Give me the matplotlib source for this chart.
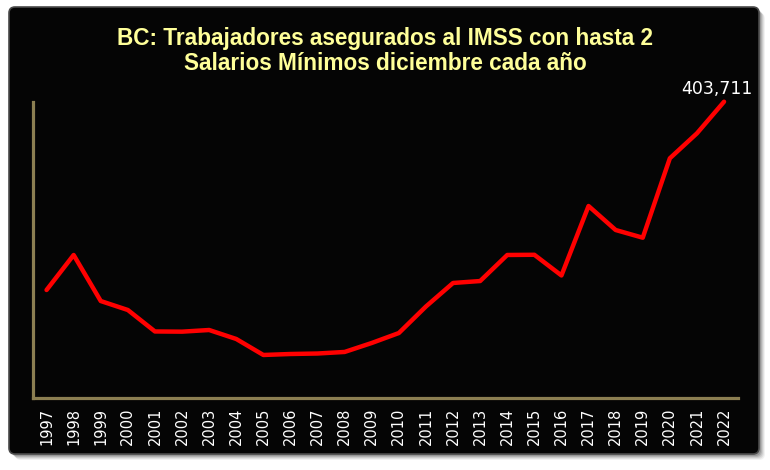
import numpy as np
import matplotlib
matplotlib.use("Agg")
import matplotlib.pyplot as plt
from matplotlib import font_manager
from matplotlib.patches import FancyBboxPatch

# datos (estimados a partir de la imagen)
years = [str(y) for y in range(1997, 2023)]
workers = [210700, 246600, 199400, 190200, 168200, 168000, 169700, 160500,
           144100, 145100, 145600, 147200, 156400, 166600, 193800, 217900,
           219900, 246600, 246800, 225600, 296800, 272200, 264300, 345700,
           371300, 403711]
title_1 = "BC: Trabajadores asegurados al IMSS con hasta 2"
title_2 = "Salarios Mínimos diciembre cada año"


def pick_font(names):
    for n in names:
        try:
            font_manager.findfont(font_manager.FontProperties(family=n), fallback_to_default=False)
            return n
        except Exception:
            pass
    return "DejaVu Sans"


narrow = pick_font(["Liberation Sans Narrow", "Liberation Sans", "DejaVu Sans"])
title_size = 17 if narrow == "Liberation Sans Narrow" else 16.3

W, H = 770, 470
fig = plt.figure(figsize=(W / 100, H / 100), dpi=100)
fig.patch.set_facecolor("white")

# fondo: panel negro con sombra
bg = fig.add_axes([0, 0, 1, 1])
bg.set_xlim(0, W)
bg.set_ylim(H, 0)
bg.axis("off")
for i, a in enumerate([0.05, 0.07, 0.09, 0.12, 0.15]):
    off = 6 - i
    bg.add_patch(FancyBboxPatch((9 + off, 7 + off), 750, 447,
                                boxstyle="round,pad=0,rounding_size=6",
                                fc="black", ec="none", alpha=a))
panel = FancyBboxPatch((9, 7), 750, 447, boxstyle="round,pad=0,rounding_size=6",
                       fc="#050505", ec="#4a4a4a", lw=1.2)
bg.add_patch(panel)
grad = np.linspace(0.55, 0.02, 60).reshape(-1, 1)
im = bg.imshow(np.dstack([grad, grad, grad]), extent=(9, 759, 26, 7), aspect="auto")
im.set_clip_path(panel)

# titulo
fig.text(0.5, 1 - 45 / H, title_1, ha="center", va="baseline", color="#FFFF99",
         fontsize=title_size, fontweight="bold", family=narrow)
fig.text(0.5, 1 - 70 / H, title_2, ha="center", va="baseline", color="#FFFF99",
         fontsize=title_size, fontweight="bold", family=narrow)

# grafica
ax = fig.add_axes([33 / W, 1 - 398 / H, (737.6 - 33) / W, (398 - 101.7) / H])
ax.set_facecolor("none")
x = np.arange(len(years))
ax.plot(x, workers, color="#FF0000", lw=3.2, solid_joinstyle="round",
        solid_capstyle="round", clip_on=False)
ax.set_xlim(-0.5, len(years) - 0.5)
ax.set_ylim(100000, 403711)
ax.set_xticks(x)
ax.set_xticklabels(years, rotation=90, color="white", fontsize=10.5)
ax.tick_params(axis="x", length=0, pad=7)
ax.set_yticks([])
for s in ["top", "right"]:
    ax.spines[s].set_visible(False)
for s in ["left", "bottom"]:
    ax.spines[s].set_color("#8C7F52")
    ax.spines[s].set_linewidth(2.3)

ax.annotate(f"{workers[-1]:,}", xy=(x[-1], workers[-1]), xytext=(-5, 3),
            textcoords="offset points", ha="center", va="bottom",
            color="white", fontsize=12.5)

fig.savefig("out.png", dpi=100, facecolor=fig.get_facecolor())
